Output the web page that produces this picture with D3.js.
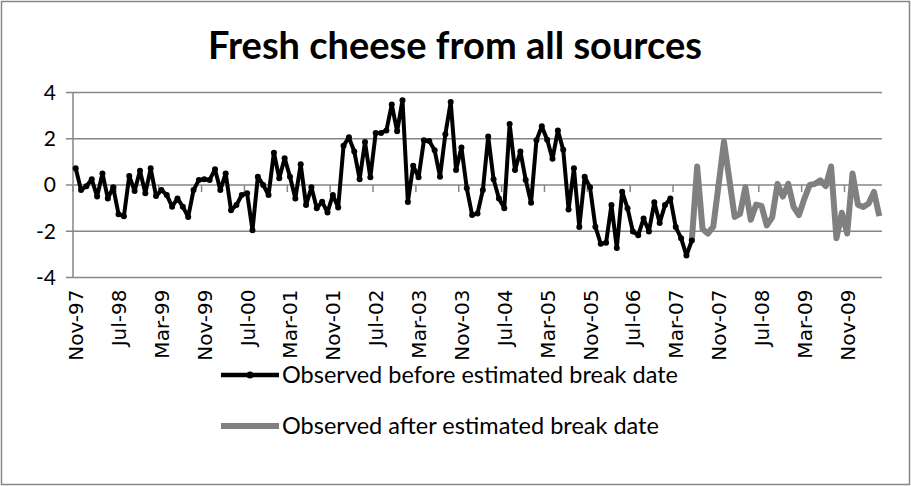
<!DOCTYPE html>
<html lang="en">
<head>
    <meta charset="UTF-8">
    <title>Fresh cheese from all sources</title>
    <script src="https://cdn.jsdelivr.net/npm/d3@7/dist/d3.min.js"></script>
    <style>
        body { margin: 0; background: #fff; }
        .title { font-family: Lato, "Open Sans", sans-serif; font-weight: bold; font-size: 38px; }
        .ylab { font-family: Lato, sans-serif; font-size: 21px; }
        .xlab { font-family: "DejaVu Sans", sans-serif; font-size: 20px; }
        .leg { font-family: Lato, sans-serif; font-size: 23.5px; }
    </style>
</head>
<body>
    <svg width="911" height="486"></svg>
    <script>
        // monthly categories, Nov-97 .. May-10
        var months = d3.timeMonth.range(new Date(1997, 10, 1), new Date(2010, 5, 1));
        var tickLabels = ["Nov-97", "Jul-98", "Mar-99", "Nov-99", "Jul-00", "Mar-01", "Nov-01", "Jul-02",
            "Mar-03", "Nov-03", "Jul-04", "Mar-05", "Nov-05", "Jul-06", "Mar-07", "Nov-07", "Jul-08",
            "Mar-09", "Nov-09"];
        var yTicks = [-4, -2, 0, 2, 4];

        // observed before break (Nov-97 .. Jun-07)
        var before = [
            0.72, -0.22, -0.05, 0.25, -0.5, 0.5, -0.58, -0.1, -1.26, -1.35,
            0.39, -0.26, 0.62, -0.36, 0.72, -0.48, -0.22, -0.43, -0.94, -0.58,
            -0.94, -1.38, -0.22, 0.22, 0.25, 0.22, 0.68, -0.22, 0.5, -1.09,
            -0.87, -0.43, -0.36, -1.96, 0.36, 0.0, -0.43, 1.4, 0.29, 1.16,
            0.36, -0.58, 0.9, -0.87, -0.1, -1.0, -0.72, -1.19, -0.43, -0.97,
            1.7, 2.06, 1.45, 0.25, 1.86, 0.33, 2.25, 2.25, 2.36, 3.48,
            2.32, 3.67, -0.74, 0.83, 0.33, 1.93, 1.9, 1.5, 0.36, 2.2,
            3.59, 0.65, 1.62, -0.14, -1.3, -1.23, -0.22, 2.1, 0.25, -0.58,
            -1.0, 2.64, 0.65, 1.45, 0.22, -0.77, 1.93, 2.54, 1.96, 1.13,
            2.36, 1.52, -1.06, 0.72, -1.82, 0.36, -0.1, -1.8, -2.54, -2.5,
            -0.87, -2.72, -0.29, -1.0, -2.01, -2.17, -1.45, -2.01, -0.75, -1.64,
            -0.87, -0.58, -1.82, -2.3, -3.05, -2.4
        ];
        // observed after break (Jun-07 .. May-10)
        var after = [
            -2.4, 0.8, -1.9, -2.1, -1.8, 0.0, 1.88, 0.25, -1.38, -1.25,
            -0.1, -1.5, -0.85, -0.9, -1.75, -1.4, 0.05, -0.5, 0.05, -0.95,
            -1.3, -0.6, 0.0, 0.05, 0.2, -0.05, 0.8, -2.3, -1.2, -2.1,
            0.5, -0.85, -0.95, -0.8, -0.3, -1.35
        ];
        var breakIndex = before.length - 1;

        var svg = d3.select("svg");
        var margin = {left: 73, right: 29, top: 92.5, bottom: 208.5};
        var width = +svg.attr("width"), height = +svg.attr("height");
        var fmt = d3.timeFormat("%b-%y");

        // chart border
        svg.append("rect")
            .attr("x", 1.5).attr("y", 1.5)
            .attr("width", width - 3).attr("height", height - 3)
            .attr("fill", "none").attr("stroke", "#868686").attr("stroke-width", 1.5);

        svg.append("text")
            .attr("class", "title")
            .attr("x", 455).attr("y", 59)
            .attr("text-anchor", "middle")
            .text("Fresh cheese from all sources");

        var x = d3.scaleBand()
            .domain(d3.range(months.length))
            .range([margin.left, width - margin.right])
            .padding(0);
        var y = d3.scaleLinear()
            .domain([-4, 4])
            .range([height - margin.bottom, margin.top]);
        var cx = function(i) { return x(i) + x.bandwidth() / 2; };

        // gridlines + y ticks
        svg.append("g").selectAll("line")
            .data(yTicks)
            .enter().append("line")
            .attr("x1", margin.left - 7).attr("x2", width - margin.right)
            .attr("y1", function(d) { return y(d); })
            .attr("y2", function(d) { return y(d); })
            .attr("stroke", "#868686").attr("stroke-width", 1.5);

        svg.append("g").selectAll("text")
            .data(yTicks)
            .enter().append("text")
            .attr("class", "ylab")
            .attr("x", 56)
            .attr("y", function(d) { return y(d); })
            .attr("dy", "0.35em")
            .attr("text-anchor", "end")
            .text(function(d) { return d; });

        // value axis line
        svg.append("line")
            .attr("x1", margin.left).attr("x2", margin.left)
            .attr("y1", y(4)).attr("y2", y(-4))
            .attr("stroke", "#868686").attr("stroke-width", 1.5);

        // category ticks every 8 months, on the zero line
        var tickIdx = d3.range(0, months.length, 8);
        svg.append("g").selectAll("line")
            .data(tickIdx)
            .enter().append("line")
            .attr("x1", function(d) { return x(d); })
            .attr("x2", function(d) { return x(d); })
            .attr("y1", y(0)).attr("y2", y(0) + 7)
            .attr("stroke", "#868686").attr("stroke-width", 1.5);

        // category labels, low position
        svg.append("g").selectAll("text")
            .data(tickLabels)
            .enter().append("text")
            .attr("class", "xlab")
            .attr("text-anchor", "end")
            .attr("transform", function(d) {
                var i = months.findIndex(function(m) { return fmt(m) === d; });
                return "translate(" + (cx(i) + 7.5) + "," + (y(-4) + 12) + ") rotate(-90)";
            })
            .text(function(d) { return d; });

        var line = d3.line()
            .x(function(d) { return cx(d.i); })
            .y(function(d) { return y(d.v); });

        var beforePts = before.map(function(v, i) { return {i: i, v: v}; });
        var afterPts = after.map(function(v, i) { return {i: breakIndex + i, v: v}; });

        svg.append("path")
            .datum(afterPts)
            .attr("d", line)
            .attr("fill", "none")
            .attr("stroke", "#808080")
            .attr("stroke-width", 6)
            .attr("stroke-linejoin", "round");

        svg.append("path")
            .datum(beforePts)
            .attr("d", line)
            .attr("fill", "none")
            .attr("stroke", "#000")
            .attr("stroke-width", 4)
            .attr("stroke-linejoin", "round");

        svg.append("g").selectAll("circle")
            .data(beforePts)
            .enter().append("circle")
            .attr("cx", function(d) { return cx(d.i); })
            .attr("cy", function(d) { return y(d.v); })
            .attr("r", 3)
            .attr("fill", "#000");

        // legend
        var legend = [
            {name: "Observed before estimated break date", color: "#000", w: 4.5, marker: true, y: 375},
            {name: "Observed after estimated break date", color: "#808080", w: 6, marker: false, y: 426}
        ];
        var lg = svg.append("g").selectAll("g")
            .data(legend)
            .enter().append("g")
            .attr("transform", function(d) { return "translate(0," + d.y + ")"; });
        lg.append("line")
            .attr("x1", 221).attr("x2", 279)
            .attr("stroke", function(d) { return d.color; })
            .attr("stroke-width", function(d) { return d.w; });
        lg.filter(function(d) { return d.marker; })
            .append("circle")
            .attr("cx", 250).attr("r", 3.5).attr("fill", "#000");
        lg.append("text")
            .attr("class", "leg")
            .attr("x", 282)
            .attr("dy", "0.35em")
            .text(function(d) { return d.name; });
    </script>
</body>
</html>
